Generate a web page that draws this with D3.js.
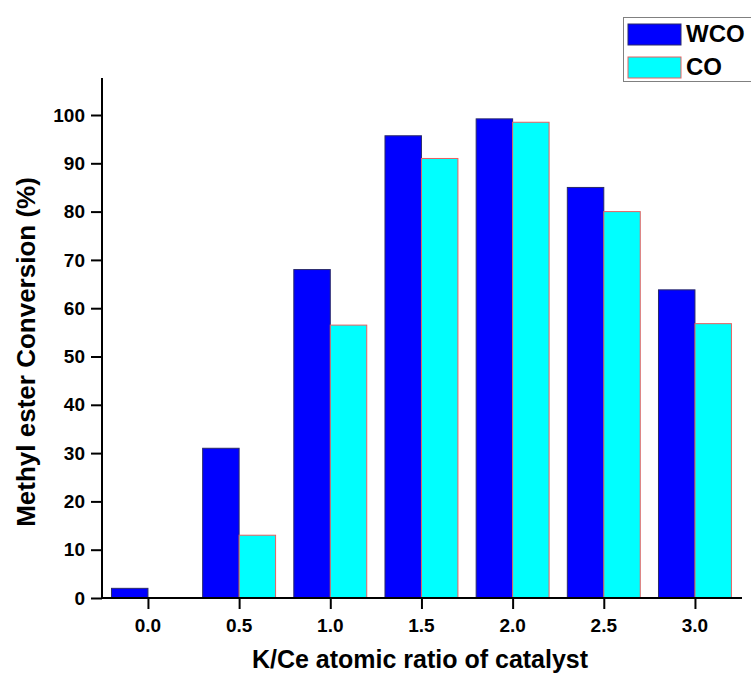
<!DOCTYPE html>
<html><head><meta charset="utf-8">
<script src="https://cdn.jsdelivr.net/npm/d3@7"></script>
<style>body{margin:0;background:#fff}svg{display:block}text{font-family:"Liberation Sans",Arial,sans-serif;font-weight:bold}</style>
</head><body>
<svg id="c" width="751" height="677"></svg>
<script>
const categories = [0.0, 0.5, 1.0, 1.5, 2.0, 2.5, 3.0];
const wco = [2, 31, 68, 95.7, 99.2, 85, 63.8];
const co = [0, 13, 56.5, 91, 98.5, 80, 56.8];
const yTicks = [0, 10, 20, 30, 40, 50, 60, 70, 80, 90, 100];
const seriesNames = ["WCO", "CO"];

(function () {
const svg = d3.select("#c");
const mLeft = 102, mRight = 742, mTop = 78, mBottom = 598;
const x = d3.scaleLinear().domain([-0.252, 3.258]).range([mLeft, mRight]);
const y = d3.scaleLinear().domain([0, 100]).range([mBottom, 115]);
const bw = 0.2;

const g = svg.append("g");
g.selectAll(".w").data(categories).enter().append("rect")
  .attr("x", (d) => x(d - bw)).attr("width", (d) => x(d) - x(d - bw))
  .attr("y", (d, i) => y(wco[i])).attr("height", (d, i) => y(0) - y(wco[i]))
  .attr("fill", "#0000ff").attr("stroke", "#2a2a6a").attr("stroke-width", 1);
g.selectAll(".c").data(categories).enter().append("rect")
  .attr("x", (d) => x(d)).attr("width", (d) => x(d + bw) - x(d))
  .attr("y", (d, i) => y(co[i])).attr("height", (d, i) => y(0) - y(co[i]))
  .attr("fill", "#00ffff").attr("stroke", (d, i) => co[i] > 0 ? "#e86060" : "none").attr("stroke-width", 1);

const yAxis = d3.axisLeft(y).tickValues(yTicks).tickSize(11).tickFormat("");
const ya = svg.append("g").attr("transform", `translate(${mLeft},0)`).call(yAxis);
ya.select(".domain").remove();
ya.selectAll(".tick line").attr("stroke-width", 2);
svg.append("g").selectAll("text").data(yTicks).enter().append("text")
  .attr("x", mLeft - 17).attr("y", (d) => y(d)).attr("dy", "0.35em")
  .attr("text-anchor", "end").style("font-size", "19px").attr("fill", "#000")
  .text(d3.format("d"));
svg.append("line").attr("x1", mLeft).attr("x2", mLeft).attr("y1", mTop).attr("y2", mBottom + 1).attr("stroke", "#000").attr("stroke-width", 2);

const xAxis = d3.axisBottom(x).tickValues(categories).tickSize(11).tickFormat("");
const xa = svg.append("g").attr("transform", `translate(0,${mBottom})`).call(xAxis);
xa.select(".domain").remove();
xa.selectAll(".tick line").attr("stroke-width", 2);
svg.append("g").selectAll("text").data(categories).enter().append("text")
  .attr("x", (d) => x(d)).attr("y", mBottom + 34)
  .attr("text-anchor", "middle").style("font-size", "19px").attr("fill", "#000")
  .text(d3.format(".1f"));
svg.append("line").attr("x1", mLeft - 1).attr("x2", mRight).attr("y1", mBottom).attr("y2", mBottom).attr("stroke", "#000").attr("stroke-width", 2);

svg.append("text").attr("transform", "translate(35,352) rotate(-90)").attr("text-anchor", "middle")
  .attr("font-size", 26).text("Methyl ester Conversion (%)");
svg.append("text").attr("x", 420).attr("y", 668).attr("text-anchor", "middle")
  .attr("font-size", 25).text("K/Ce atomic ratio of catalyst");

const lg = svg.append("g");
lg.append("rect").attr("x", 623.5).attr("y", 17.5).attr("width", 140).attr("height", 64)
  .attr("fill", "#fff").attr("stroke", "#808080").attr("stroke-width", 1);
const fills = ["#0000ff", "#00ffff"], strokes = ["#2a2a6a", "#e86060"];
seriesNames.forEach((n, i) => {
  lg.append("rect").attr("x", 628).attr("y", 24 + i * 33).attr("width", 53).attr("height", 21)
    .attr("fill", fills[i]).attr("stroke", strokes[i]).attr("stroke-width", 1);
  lg.append("text").attr("x", 686).attr("y", 42 + i * 33).attr("font-size", 24).text(n);
});
})();
</script>
</body></html>
